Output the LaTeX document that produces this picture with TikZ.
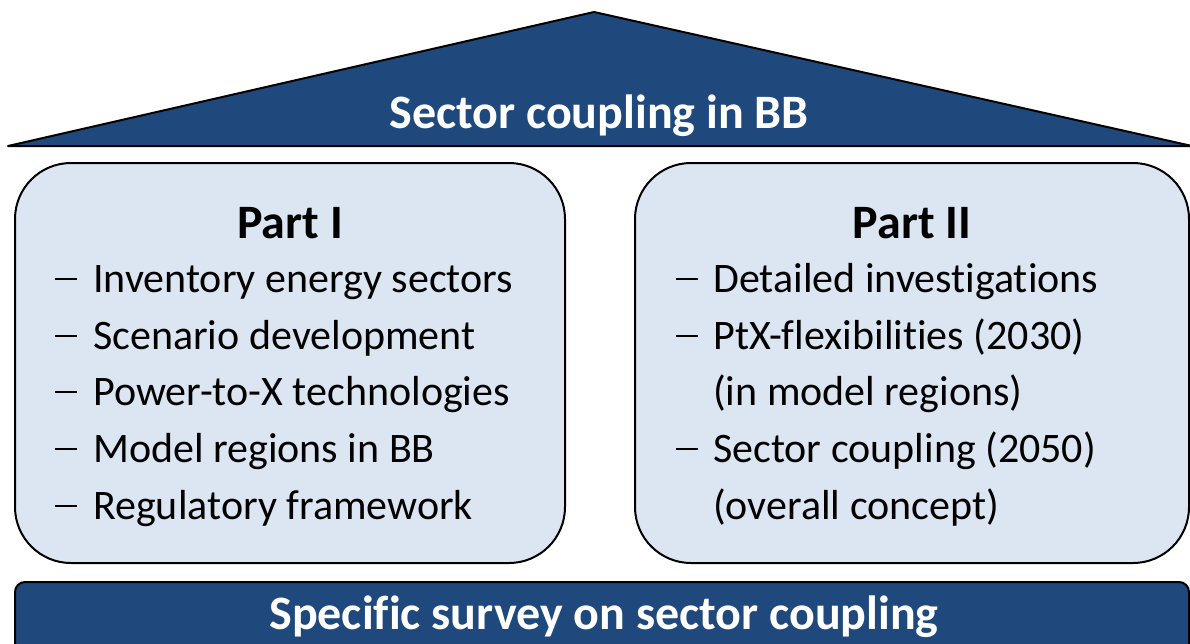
\documentclass[tikz,border=0pt]{standalone}
\usepackage{fontspec}
\setmainfont[Ligatures={NoCommon}]{Carlito}
\definecolor{roofblue}{HTML}{1F497D}
\definecolor{panelfill}{HTML}{DCE6F2}

\begin{document}
\begin{tikzpicture}[x=1pt, y=-1pt, line join=round,
  outline/.style={draw=black, line width=2pt},
  panelbox/.style={outline, fill=panelfill, rounded corners=56pt, inner sep=0pt},
  barbox/.style={outline, fill=roofblue, rounded corners=10pt, inner sep=0pt},
  headtext/.style={font=\fontsize{48}{58}\selectfont\bfseries, inner sep=0pt, anchor=base},
  itemtext/.style={font=\fontsize{42}{57}\selectfont, inner sep=0pt, anchor=base west},
  dashmark/.style={inner sep=0pt, anchor=base west},
]
% page frame
\clip (0,0) rectangle (1190,643);

% roof
\draw[outline, fill=roofblue] (8,146) -- (594,12) -- (1192,146) -- cycle;
\node[headtext, text=white] (roof) at (599,128) {Sector coupling in BB};

% the two parts
\node[panelbox, minimum width=550pt, minimum height=400pt] (part1) at (290,363) {};
\node[panelbox, minimum width=554pt, minimum height=400pt] (part2) at (912,363) {};

\node[headtext] (t1) at (290,238) {Part I};
\node[headtext] (t2) at (912,238) {Part II};

% Part I items
\foreach \n/\yy/\txt in {1/292/Inventory energy sectors,
                         2/349/Scenario development,
                         3/405/Power-to-X technologies,
                         4/462/Model regions in BB,
                         5/519/Regulatory framework}{
  \node[dashmark] (a\n) at (55,\yy) {\rule[12pt]{22pt}{2.2pt}};
  \node[itemtext] (ai\n) at (93,\yy) {\txt};
}

% Part II items
\foreach \n/\yy in {1/292, 2/349, 4/462}{
  \node[dashmark] (b\n) at (676,\yy) {\rule[12pt]{22pt}{2.2pt}};
}
\node[itemtext] (bi1) at (713,292) {Detailed investigations};
\node[itemtext] (bi2) at (713,349) {PtX-flexibilities (2030)};
\node[itemtext] (bi3) at (713,405) {(in model regions)};
\node[itemtext] (bi4) at (713,462) {Sector coupling (2050)};
\node[itemtext] (bi5) at (713,519) {(overall concept)};

% foundation bar
\node[barbox, minimum width=1174pt, minimum height=80pt] (bar) at (602,622) {};
\node[headtext, text=white] (bartxt) at (604,629) {Specific survey on sector coupling};
\end{tikzpicture}
\end{document}
